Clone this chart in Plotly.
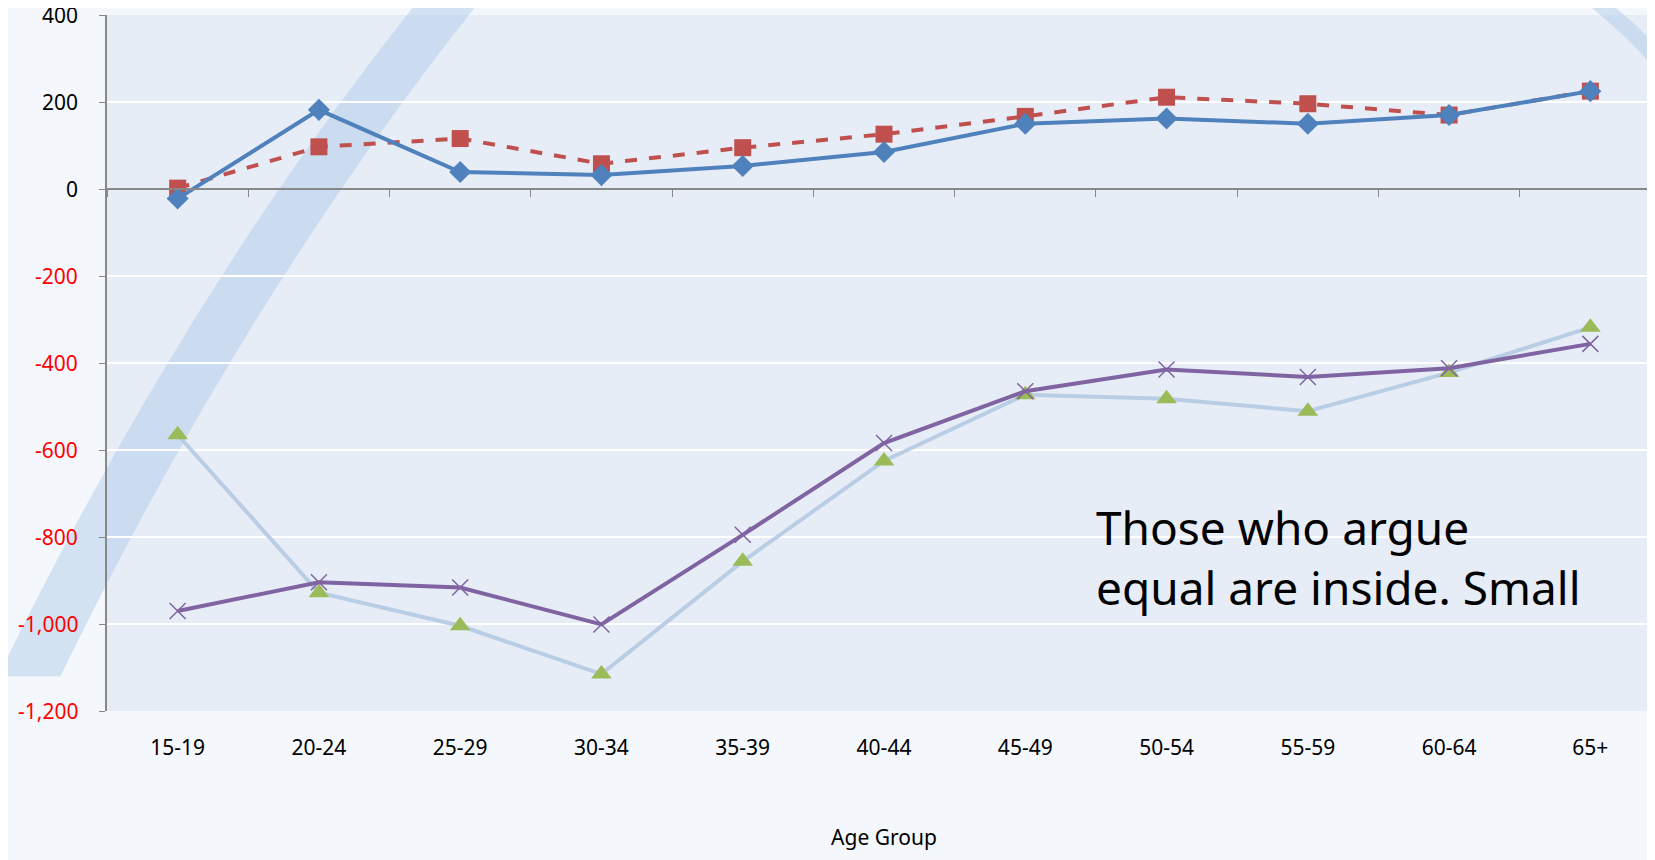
import plotly.graph_objects as go

ages = ["15-19", "20-24", "25-29", "30-34", "35-39", "40-44", "45-49", "50-54", "55-59", "60-64", "65+"]
blue = [-22, 182, 39, 32, 53, 85, 150, 162, 150, 170, 225]
red = [2, 97, 116, 58, 95, 126, 167, 211, 196, 170, 225]
green = [-565, -928, -1004, -1115, -856, -625, -473, -482, -511, -422, -318]
purple = [-970, -904, -916, -1001, -795, -584, -465, -415, -432, -412, -356]
yticks = [400, 200, 0, -200, -400, -600, -800, -1000, -1200]
ytext = ["400", "200", "0", "-200", "-400", "-600", "-800", "-1,000", "-1,200"]

fig = go.Figure()
fig.add_trace(go.Scatter(x=ages, y=green, mode="lines+markers",
                         line=dict(color="#b9cde5", width=4),
                         marker=dict(symbol="triangle-up", size=18, color="#9bbb59")))
fig.add_trace(go.Scatter(x=ages, y=purple, mode="lines+markers",
                         line=dict(color="#8064a2", width=4),
                         marker=dict(symbol="x-thin", size=16, line=dict(color="#8064a2", width=1.5))))
fig.add_trace(go.Scatter(x=ages, y=red, mode="lines+markers",
                         line=dict(color="#c0504d", width=4, dash="dash"),
                         marker=dict(symbol="square", size=17, color="#c0504d")))
fig.add_trace(go.Scatter(x=ages, y=blue, mode="lines+markers",
                         line=dict(color="#4f81bd", width=4),
                         marker=dict(symbol="diamond", size=17, color="#4f81bd")))
# dummy trace so the zero-line axis with ticks is drawn
fig.add_trace(go.Scatter(x=ages, y=[0] * len(ages), xaxis="x2", mode="lines",
                         line=dict(width=0), hoverinfo="skip"))

fig.update_layout(
    width=1655, height=860, showlegend=False,
    margin=dict(l=99, r=2, t=7, b=157),
    paper_bgcolor="#f4f7fc", plot_bgcolor="rgba(220,230,244,0.6)",
    font=dict(family="Noto Sans", size=21, color="black"),
    xaxis=dict(type="category", showgrid=False, showline=False, ticks="",
               tickfont=dict(size=21), range=[-0.5, 10.5], ticklabelstandoff=22,
               title=dict(text="Age Group", font=dict(size=21), standoff=70)),
    xaxis2=dict(type="category", overlaying="x", anchor="free", position=0.75,
                side="bottom", range=[-0.5, 10.5], showticklabels=False,
                showline=True, linecolor="#888", linewidth=1.5,
                ticks="outside", tickson="boundaries", ticklen=7, tickcolor="#888",
                showgrid=False),
    yaxis=dict(range=[-1200, 400], tickvals=yticks, ticktext=ytext,
               gridcolor="white", gridwidth=1.5, zeroline=False,
               showline=True, linecolor="#888", linewidth=1.5,
               ticks="outside", ticklen=6, tickcolor="#888", showticklabels=False),
)

# negative tick labels are red, so labels are drawn as annotations
for v, t in zip(yticks, ytext):
    fig.add_annotation(x=0, xref="paper", xshift=-27, y=v, yref="y", text=t,
                       showarrow=False, xanchor="right",
                       font=dict(size=21, color="red" if v < 0 else "black"))

fig.add_annotation(x=0.635, xref="paper", y=-845, yref="y", xanchor="left",
                   text="Those who argue<br>equal are inside. Small", align="left",
                   showarrow=False, font=dict(size=46, color="black"))

# decorative swooshes
fig.add_shape(type="path", xref="paper", yref="paper", layer="below",
              path="M -0.07 0.05 Q 0.05 0.6 0.2 1.02 L 0.24 1.02 Q 0.09 0.6 -0.03 0.05 Z",
              fillcolor="rgba(170,200,230,0.45)", line=dict(width=0))
fig.add_shape(type="path", xref="paper", yref="paper", layer="below",
              path="M 0.95 1.02 Q 0.99 0.95 1.01 0.88 L 1.01 0.92 Q 0.99 0.98 0.965 1.02 Z",
              fillcolor="rgba(170,200,230,0.45)", line=dict(width=0))

fig.write_html("out.html")
